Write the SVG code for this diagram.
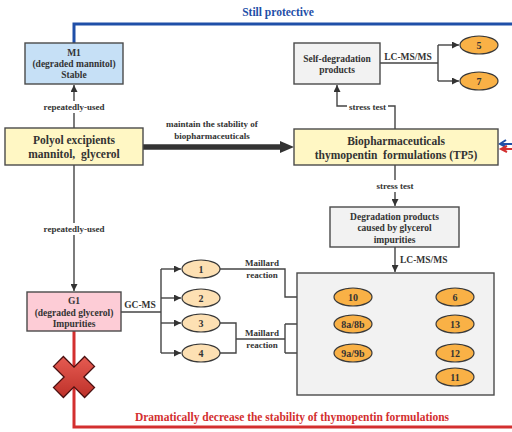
<svg xmlns="http://www.w3.org/2000/svg" width="512" height="432" viewBox="0 0 512 432">
<defs>
<style>
text{font-family:"Liberation Serif","Times New Roman",serif;font-weight:bold;fill:#333;text-anchor:middle;dominant-baseline:central}
.big{font-size:11.5px}
.mid{font-size:9.5px}
.lbl{font-size:9px}
.num{font-size:10px}
.box{stroke:#4a4a4a;stroke-width:1.4}
.con{fill:none;stroke:#444;stroke-width:1.4}
.o1{fill:#f9b146;stroke:#3a3a3a;stroke-width:1.2}
.o2{fill:#fde0b3;stroke:#3a3a3a;stroke-width:1.2}
.bg{fill:#fff}
</style>
<marker id="ar" viewBox="0 0 10 10" refX="10" refY="5" markerWidth="8" markerHeight="7" markerUnits="userSpaceOnUse" orient="auto">
<path d="M0,0 L10,5 L0,10 z" fill="#333"/>
</marker>
<linearGradient id="rg" x1="0" y1="0" x2="1" y2="1">
<stop offset="0" stop-color="#f0665c"/>
<stop offset="1" stop-color="#b3261f"/>
</linearGradient>
</defs>

<g id="connectors">
<path d="M74,43 V24 H512" fill="none" stroke="#1f4fa8" stroke-width="3"/>
<path d="M512,144 H501" fill="none" stroke="#1f4fa8" stroke-width="2"/>
<path d="M506,140 L500,144 L506,147" fill="none" stroke="#1f4fa8" stroke-width="2"/>
<path d="M74,331 V427 H512" fill="none" stroke="#d32f2f" stroke-width="3"/>
<path d="M512,149 H502" fill="none" stroke="#d32f2f" stroke-width="2"/>
<path d="M507,146 L501,149 L507,152" fill="none" stroke="#d32f2f" stroke-width="2"/>
<path class="con" d="M74,128 V85" marker-end="url(#ar)"/>
<path class="con" d="M74,165 V291" marker-end="url(#ar)"/>
<path d="M143,147 H282" stroke="#333" stroke-width="5.5" fill="none"/>
<path d="M280,141 L294,147 L280,153 z" fill="#333"/>
<path class="con" d="M395,129 V106 H337 V85" marker-end="url(#ar)"/>
<path class="con" d="M380,63 H438"/>
<path class="con" d="M438,45 V81"/>
<path class="con" d="M438,45 H459" marker-end="url(#ar)"/>
<path class="con" d="M438,81 H459" marker-end="url(#ar)"/>
<path class="con" d="M395,165 V206" marker-end="url(#ar)"/>
<path class="con" d="M395,247 V272" marker-end="url(#ar)"/>
<path class="con" d="M121,312 H161"/>
<path class="con" d="M161,269 V353"/>
<path class="con" d="M161,269 H181" marker-end="url(#ar)"/>
<path class="con" d="M161,298 H181" marker-end="url(#ar)"/>
<path class="con" d="M161,323 H181" marker-end="url(#ar)"/>
<path class="con" d="M161,353 H181" marker-end="url(#ar)"/>
<path class="con" d="M220,269 H285 V297 H334" marker-end="url(#ar)"/>
<path class="con" d="M220,323 H236 V353 H220"/>
<path class="con" d="M236,339 H285"/>
<path class="con" d="M285,324 V353"/>
<path class="con" d="M285,324 H334" marker-end="url(#ar)"/>
<path class="con" d="M285,353 H334" marker-end="url(#ar)"/>
<path class="con" d="M372,324 H436" marker-end="url(#ar)"/>
<path class="con" d="M372,353 H436" marker-end="url(#ar)"/>
<rect class="bg" x="42" y="101" width="64" height="12"/>
<rect class="bg" x="42" y="223" width="64" height="12"/>
<rect class="bg" x="347" y="101" width="41" height="11"/>
<rect class="bg" x="365" y="180" width="60" height="12"/>
<text class="lbl" x="74" y="107">repeatedly-used</text>
<text class="lbl" x="74" y="229">repeatedly-used</text>
<text class="lbl" x="367.5" y="106.5">stress test</text>
<text class="lbl" x="395" y="186">stress test</text>
<text class="lbl" x="212" y="124">maintain the stability of</text>
<text class="lbl" x="212" y="135.5">biopharmaceuticals</text>
<text class="mid" x="408" y="57">LC-MS/MS</text>
<text class="mid" x="400" y="260" style="text-anchor:start">LC-MS/MS</text>
<text class="mid" x="140" y="305">GC-MS</text>
<text class="lbl" x="262" y="263">Maillard</text>
<text class="lbl" x="262" y="275">reaction</text>
<text class="lbl" x="262" y="333">Maillard</text>
<text class="lbl" x="262" y="345">reaction</text>
<text class="lbl" x="404" y="315">dehydration</text>
<text class="lbl" x="404" y="341.5">dehydration</text>
</g>

<text x="278" y="12" style="font-size:11.5px;fill:#1f4fa8">Still protective</text>
<text x="292" y="417" style="font-size:11.5px;fill:#d32f2f">Dramatically decrease the stability of thymopentin formulations</text>

<g id="M1">
<rect class="box" x="25" y="43" width="98" height="41" fill="#c6e0f6"/>
<text class="mid" x="74" y="52.5">M1</text>
<text class="mid" x="74" y="63.5">(degraded mannitol)</text>
<text class="mid" x="74" y="75">Stable</text>
</g>

<g id="polyol">
<rect class="box" x="5" y="128" width="138" height="37" fill="#fff7c4"/>
<text class="big" x="74" y="140">Polyol excipients</text>
<text class="big" x="74" y="154" xml:space="preserve">mannitol,  glycerol</text>
</g>

<g id="TP5">
<rect class="box" x="294" y="129" width="204" height="36" fill="#fff7c4"/>
<text class="big" x="396" y="140.5">Biopharmaceuticals</text>
<text class="big" x="396" y="154.5" xml:space="preserve">thymopentin  formulations (TP5)</text>
</g>

<g id="selfdeg">
<rect class="box" x="294" y="43" width="86" height="41" fill="#f2f2f2"/>
<text class="mid" x="337" y="58.5">Self-degradation</text>
<text class="mid" x="337" y="70">products</text>
</g>

<g id="n5"><ellipse class="o1" cx="479" cy="45" rx="19" ry="9"/><text class="num" x="479" y="45">5</text></g>
<g id="n7"><ellipse class="o1" cx="479" cy="81" rx="19" ry="9"/><text class="num" x="479" y="81">7</text></g>

<g id="degprod">
<rect class="box" x="330" y="207" width="129" height="40" fill="#f2f2f2"/>
<text class="mid" x="394.5" y="216.5">Degradation products</text>
<text class="mid" x="394.5" y="228">caused by glycerol</text>
<text class="mid" x="394.5" y="239.5">impurities</text>
</g>

<g id="products">
<rect class="box" x="297" y="273" width="197" height="122" fill="#f2f2f2"/>
</g>

<g id="n10"><ellipse class="o1" cx="353" cy="297" rx="19" ry="9"/><text class="num" x="353" y="297">10</text></g>
<g id="n6"><ellipse class="o1" cx="455" cy="297" rx="19" ry="9"/><text class="num" x="455" y="297">6</text></g>
<g id="n8"><ellipse class="o1" cx="353" cy="324" rx="19" ry="9"/><text class="num" x="353" y="324">8a/8b</text></g>
<g id="n13"><ellipse class="o1" cx="455" cy="324" rx="19" ry="9"/><text class="num" x="455" y="324">13</text></g>
<g id="n9"><ellipse class="o1" cx="353" cy="353" rx="19" ry="9"/><text class="num" x="353" y="353">9a/9b</text></g>
<g id="n12"><ellipse class="o1" cx="455" cy="353" rx="19" ry="9"/><text class="num" x="455" y="353">12</text></g>
<g id="n11"><ellipse class="o1" cx="455" cy="377" rx="19" ry="9"/><text class="num" x="455" y="377">11</text></g>

<g id="G1">
<rect class="box" x="27" y="292" width="94" height="39" fill="#fdccd6"/>
<text class="mid" x="74" y="301">G1</text>
<text class="mid" x="74" y="312.5">(degraded glycerol)</text>
<text class="mid" x="74" y="324">Impurities</text>
</g>

<g id="n1"><ellipse class="o2" cx="201" cy="269" rx="19" ry="9"/><text class="num" x="201" y="269">1</text></g>
<g id="n2"><ellipse class="o2" cx="201" cy="298" rx="19" ry="9"/><text class="num" x="201" y="298">2</text></g>
<g id="n3"><ellipse class="o2" cx="201" cy="323" rx="19" ry="9"/><text class="num" x="201" y="323">3</text></g>
<g id="n4"><ellipse class="o2" cx="201" cy="353" rx="19" ry="9"/><text class="num" x="201" y="353">4</text></g>

<g id="cross">
<path transform="translate(74,377) rotate(45)" d="M-7,-22 H7 V-7 H22 V7 H7 V22 H-7 V7 H-22 V-7 H-7 z" fill="url(#rg)" stroke="#4a1010" stroke-width="1.3"/>
</g>
</svg>
